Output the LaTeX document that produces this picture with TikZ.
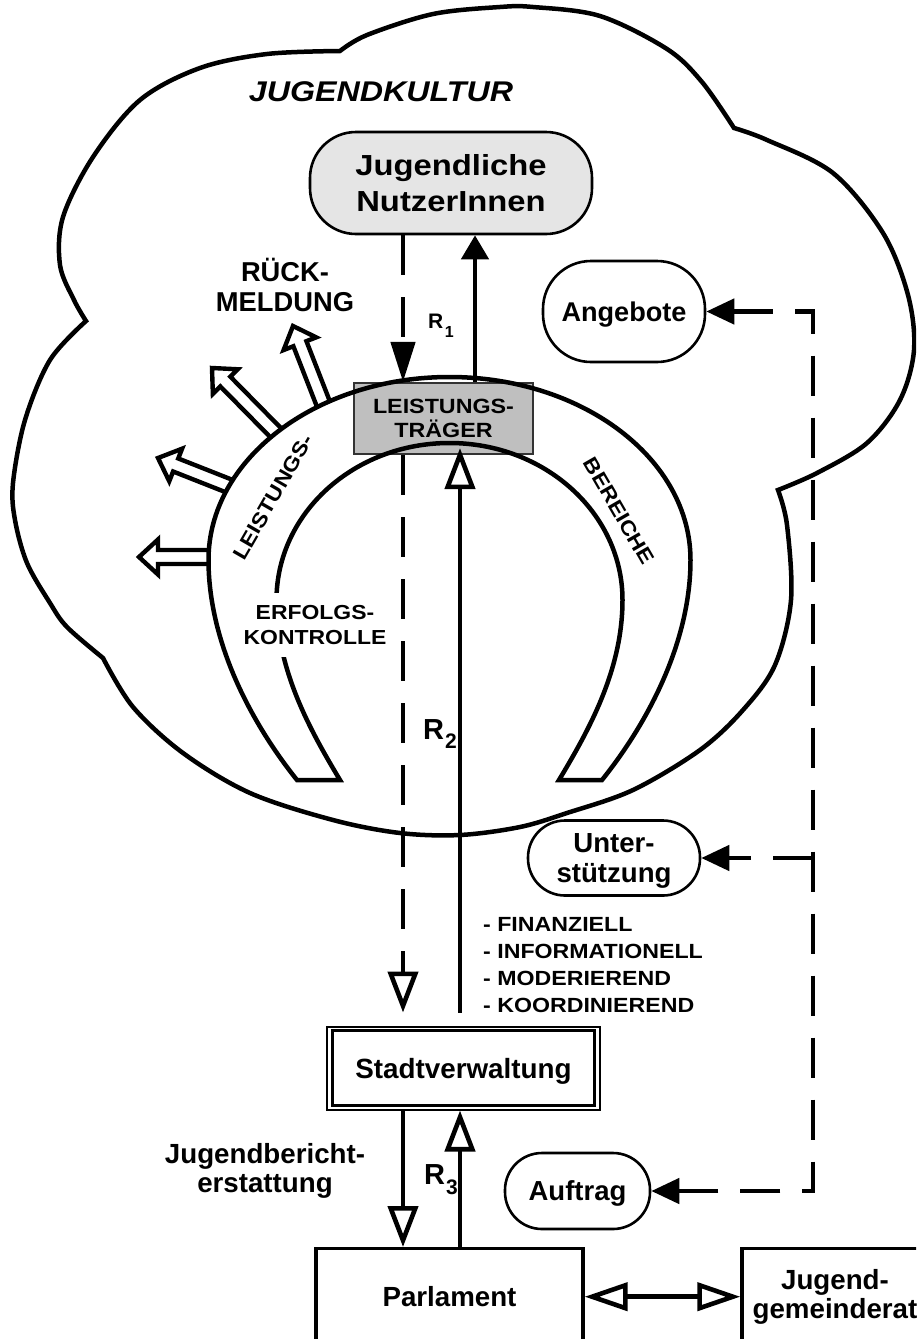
\documentclass[tikz,border=0pt]{standalone}
\usepackage{fontspec}
\usepackage{graphicx}
\setmainfont{Liberation Sans}
\newfontfamily\widesans[FakeStretch=1.13]{Liberation Sans}
\usetikzlibrary{arrows.meta,calc}

\newcommand{\sz}[2]{\fontsize{#1pt}{#2pt}\selectfont}

\tikzset{
  heavy/.style={line width=4.5pt},
  conn/.style={line width=4.6pt},
  dashconn/.style={line width=4.6pt, dash pattern=on 40pt off 22pt},
  fulltip/.style={-{Triangle[length=28pt,width=25pt]}},
  opentip/.style={-{Triangle[open,length=41pt,width=30pt]}},
  txt/.style={inner sep=0pt, align=center},
  pill/.style={draw, line width=2.6pt, rounded corners=#1, inner sep=0pt, text depth=0pt},
  plainbox/.style={draw, line width=3.4pt, inner sep=0pt, fill=white},
  hollow/.style={line width=4.4pt, fill=white},
}

% outlined "broad" arrow from base #1 to tip #2
\newcommand{\hollowarrow}[2]{%
  \coordinate (ha-b) at #1;
  \coordinate (ha-t) at #2;
  \coordinate (ha-h) at ($(ha-t)!19pt!(ha-b)$);
  \draw[hollow] ($(ha-b)!7pt!90:(ha-t)$) -- ($(ha-h)!7pt!90:(ha-t)$)
    -- ($(ha-h)!17.5pt!90:(ha-t)$) -- (ha-t) -- ($(ha-h)!17.5pt!-90:(ha-t)$)
    -- ($(ha-h)!7pt!-90:(ha-t)$) -- ($(ha-b)!7pt!-90:(ha-t)$);
}

\begin{document}
\begin{tikzpicture}[x=1pt, y=-1pt]
\useasboundingbox (0,0) rectangle (916,1339);
\clip (0,0) rectangle (916,1339);
\fill[white] (0,0) rectangle (916,1339);

% the youth-culture cloud: five lobes meeting in sharp cusps
\draw[heavy]
  plot[smooth, tension=0.55] coordinates {(86,321) (74,300) (60,265) (63,217) (93,157) (140,100) (200,68) (267,54) (340,51)}
  -- plot[smooth, tension=0.55] coordinates {(340,51) (367,35) (433,14) (500,7) (533,7) (600,16) (667,49) (702,82) (734,128)}
  -- plot[smooth, tension=0.55] coordinates {(734,128) (767,140) (833,173) (883,233) (908,295) (914,350) (900,400) (867,443) (817,473) (778,490)}
  -- plot[smooth, tension=0.55] coordinates {(778,490) (787,525) (791,600) (775,665) (743,710) (700,750) (633,790) (567,813) (520,827) (460,835) (400,833) (333,820) (250,793) (183,753) (133,707) (103,658)}
  -- plot[smooth, tension=0.55] coordinates {(103,658) (67,627) (50,603) (27,563) (15,520) (13,483) (25,420) (50,360) (86,321)}
  -- cycle;

% feedback arrows leaving the horseshoe
\hollowarrow{(209,557)}{(139,557)}
\hollowarrow{(229,486)}{(158,458)}
\hollowarrow{(276,433)}{(212,368)}
\hollowarrow{(323,403)}{(293,326)}

% provider box sitting on top of the horseshoe
\node[draw=black!80, line width=2.2pt, fill=black!25, minimum width=179pt, minimum height=71pt,
      inner sep=0pt, align=center, font=\widesans\bfseries\sz{20.6}{24.5}]
      (lt) at (443.5,418.5) {LEISTUNGS-\\TRÄGER};

% horseshoe of service areas
\draw[heavy] (297,780)
  .. controls (249,720) and (208.5,640) .. (208.5,560)
  .. controls (208.5,459) and (316.4,377) .. (449.5,377)
  .. controls (582.6,377) and (690.5,459) .. (690.5,560)
  .. controls (690.5,640) and (650,720) .. (602,780)
  -- (559,780)
  .. controls (589,730) and (622.5,670) .. (622.5,600)
  .. controls (622.5,513.3) and (545,443) .. (449.5,443)
  .. controls (354,443) and (276.5,513.3) .. (276.5,600)
  .. controls (276.5,670) and (310,730) .. (340,780)
  -- cycle;

\node[txt, rotate=60, font=\widesans\bfseries\sz{20.5}{24}] (lb1) at (273,497) {LEISTUNGS-};
\node[txt, rotate=-60, font=\widesans\bfseries\sz{20.5}{24}] (lb2) at (619,511) {BEREICHE};
\node[txt, fill=white, inner xsep=3pt, inner ysep=12pt, font=\widesans\bfseries\sz{20.3}{25}]
      (ek) at (315,625) {ERFOLGS-\\KONTROLLE};

% texts and boxes
\node[txt, font=\widesans\bfseries\itshape\sz{28.5}{30}] (kultur) at (381,92) {JUGENDKULTUR};
\node[pill=46pt, fill=black!10, minimum width=282pt, minimum height=102pt, align=center,
      font=\widesans\bfseries\sz{29}{35.5}] (jug) at (451,183) {Jugendliche\\NutzerInnen};
\node[txt, font=\bfseries\sz{27.3}{29.5}] (rm) at (285,285) {RÜCK-\\MELDUNG};
\node[pill=48pt, fill=white, minimum width=162pt, minimum height=101pt,
      font=\bfseries\sz{27.1}{30}] (ang) at (624,311.5) {Angebote};
\node[pill=37pt, fill=white, minimum width=172pt, minimum height=75pt, align=center,
      font=\bfseries\sz{27.6}{30}] (unt) at (614,858) {Unter-\\stützung};
\node[txt, align=left, anchor=west, font=\widesans\bfseries\sz{20.5}{26.7}] (list) at (483,965)
      {- FINANZIELL\\- INFORMATIONELL\\- MODERIEREND\\- KOORDINIEREND};
\node[draw, line width=2pt, fill=white, minimum width=273pt, minimum height=83pt, inner sep=0pt,
      text depth=0pt, font=\bfseries\sz{27.8}{30}] (sv) at (463.5,1068) {Stadtverwaltung};
\draw[line width=3.2pt] ([shift={(6.5pt,-5pt)}]sv.north west) rectangle ([shift={(-6.5pt,5pt)}]sv.south east);
\node[txt, font=\bfseries\sz{27.7}{29}] (jb) at (265,1170.5) {Jugendbericht-\\erstattung};
\node[pill=37pt, fill=white, minimum width=145pt, minimum height=76pt,
      font=\bfseries\sz{27.5}{30}] (auf) at (577.5,1191) {Auftrag};
\node[plainbox, minimum width=267pt, minimum height=96pt, anchor=north, text depth=0pt,
      font=\bfseries\sz{27.7}{30}] (parl) at (449.5,1247) {Parlament};
\node[plainbox, minimum width=186pt, minimum height=96pt, anchor=north, align=center,
      font=\bfseries\sz{27.7}{29}] (jgr) at (835,1247) {Jugend-\\gemeinderat};

% relation labels
\node[txt, anchor=base west, font=\bfseries\sz{21}{21}] (r1) at (428,328) {R\kern1.5pt\raisebox{-9pt}{\sz{16}{16}1}};
\node[txt, anchor=base west, font=\bfseries\sz{29}{29}] (r2) at (423,739) {R\kern1pt\raisebox{-9pt}{\sz{21}{21}2}};
\node[txt, anchor=base west, font=\bfseries\sz{29}{29}] (r3) at (424,1184) {R\kern1pt\raisebox{-10pt}{\sz{21}{21}3}};

% x positions of the vertical connectors
\coordinate (xa) at (403,0);
\coordinate (xb) at (460,0);
\coordinate (xc) at (475,0);
\coordinate (xt) at (813,0);

% R1: users and providers
\draw[dashconn, -{Triangle[length=40pt,width=24pt]}] (jug.south -| xa) -- (lt.north -| xa);
\draw[conn, -{Triangle[length=24pt,width=27pt]}] (lt.north -| xc) -- (jug.south -| xc);

% R2: providers and administration
\draw[dashconn, opentip] (lt.south -| xa) -- ($(sv.north -| xa)+(0,-13)$);
\draw[conn, opentip] ($(sv.north -| xb)+(0,-13)$) -- ($(lt.south -| xb)+(0,-7)$);

% R3: administration and parliament
\draw[conn, opentip] (sv.south -| xa) -- (parl.north -| xa);
\draw[conn, opentip] (parl.north -| xb) -- (sv.south -| xb);

% parliament and youth council
\draw[conn, {Triangle[open,length=43pt,width=28pt]}-{Triangle[open,length=43pt,width=28pt]}] (parl.east) -- (jgr.west);

% mandate / support / offers
\draw[dashconn, {Triangle[length=28pt,width=25pt]}-{Triangle[length=28pt,width=25pt]}]
  (ang.east) -- (ang.east -| xt) -- (auf.east -| xt) -- (auf.east);
\draw[dashconn, fulltip] (unt.east -| xt) -- (unt.east);

\end{tikzpicture}
\end{document}
